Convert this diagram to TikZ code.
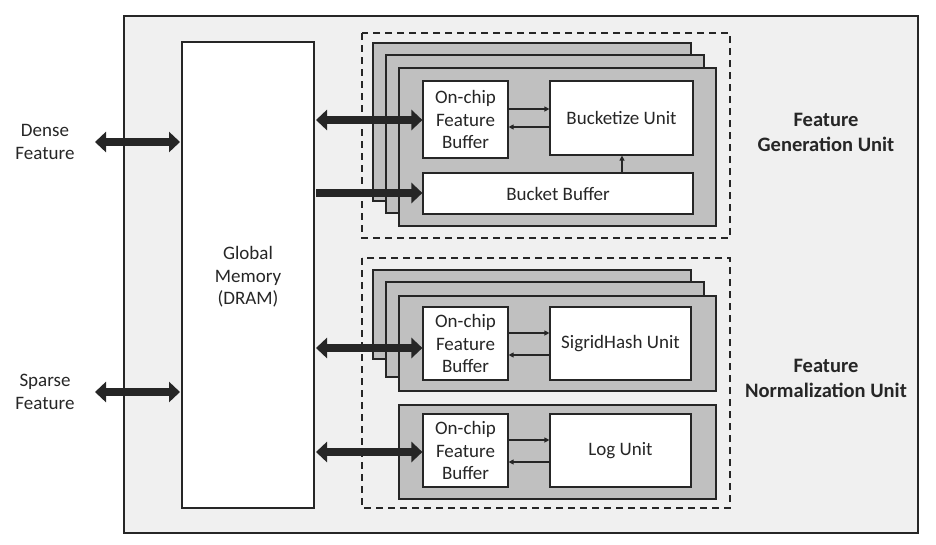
\documentclass[tikz,border=0pt]{standalone}
\usepackage{fontspec}
\setmainfont{Carlito}
\usetikzlibrary{arrows.meta}
\definecolor{bgc}{HTML}{F0F0F0}
\definecolor{grayc}{HTML}{C0C0C0}
\definecolor{linec}{HTML}{262626}
\begin{document}
\begin{tikzpicture}[x=1pt,y=-1pt,
  every node/.style={font=\fontsize{19}{22.5}\selectfont, text=linec, align=center, inner sep=0pt},
  frame/.style={draw=linec, line width=1.8pt, fill=bgc},
  graybox/.style={draw=linec, line width=1.2pt, fill=grayc},
  whitebox/.style={draw=linec, line width=1.2pt, fill=white},
  dashbox/.style={draw=linec, line width=1.6pt, dash pattern=on 7pt off 5pt},
  thin/.style={draw=linec, line width=1.2pt, -{Triangle[width=5pt,length=5pt]}},
  thick2/.style={draw=linec, line width=8pt, {Triangle[width=20pt,length=11pt]}-{Triangle[width=20pt,length=11pt]}},
  thick1/.style={draw=linec, line width=8pt, -{Triangle[width=20pt,length=11pt]}},
  lab/.style={font=\fontsize{20.5}{25}\selectfont\bfseries}
]
\useasboundingbox (0,0) rectangle (936,544);
% outer frame
\draw[frame] (124,16) rectangle (918,533);
% global memory
\draw[whitebox] (182,42) rectangle (314,508);
\node (gm) at (248,277) {Global\\Memory\\(DRAM)};
\coordinate (gmR) at (314,0);
% ---------- Feature generation ----------
\draw[dashbox] (362,33) rectangle (730,238);
\draw[graybox] (373,43) rectangle (691,201);
\draw[graybox] (386,55) rectangle (704,213);
\draw[graybox] (399,68) rectangle (716,226);
\node[whitebox, minimum width=85pt, minimum height=77pt] (fb1) at (465.5,119.5) {On-chip\\Feature\\Buffer};
\node[whitebox, minimum width=143pt, minimum height=74pt] (bu) at (621.5,118) {Bucketize Unit};
\node[whitebox, minimum width=270pt, minimum height=41pt] (bb) at (558,193.5) {Bucket Buffer};
\draw[thin] (fb1.east |- 0,109) -- (bu.west |- 0,109);
\draw[thin] (bu.west |- 0,127) -- (fb1.east |- 0,127);
\draw[thin] (bb.north -| 622,0) -- (bu.south -| 622,0);
% ---------- Feature normalization ----------
\draw[dashbox] (362,258) rectangle (730,508);
\draw[graybox] (373,270) rectangle (691,359);
\draw[graybox] (386,282) rectangle (704,377);
\draw[graybox] (399,296) rectangle (716,391);
\node[whitebox, minimum width=85pt, minimum height=73pt] (fb2) at (465.5,343.5) {On-chip\\Feature\\Buffer};
\node[whitebox, minimum width=141pt, minimum height=73pt] (sh) at (620.5,343.5) {SigridHash Unit};
\draw[thin] (fb2.east |- 0,333) -- (sh.west |- 0,333);
\draw[thin] (sh.west |- 0,355) -- (fb2.east |- 0,355);
\draw[graybox] (399,405) rectangle (716,499);
\node[whitebox, minimum width=85pt, minimum height=73pt] (fb3) at (465.5,450.5) {On-chip\\Feature\\Buffer};
\node[whitebox, minimum width=141pt, minimum height=73pt] (lu) at (620.5,450.5) {Log Unit};
\draw[thin] (fb3.east |- 0,440) -- (lu.west |- 0,440);
\draw[thin] (lu.west |- 0,462) -- (fb3.east |- 0,462);
% ---------- thick arrows ----------
\draw[thick2] (gmR |- 0,120) ++(2,0) -- (fb1.west |- 0,120);
\draw[thick1] (gmR |- 0,193) ++(2,0) -- (bb.west |- 0,193);
\draw[thick2] (gmR |- 0,348) ++(2,0) -- (fb2.west |- 0,348);
\draw[thick2] (gmR |- 0,452) ++(2,0) -- (fb3.west |- 0,452);
% external
\node (df) at (45,142) {Dense\\Feature};
\node (sf) at (45,392) {Sparse\\Feature};
\coordinate (dfa) at (95,142);
\coordinate (sfa) at (95,392);
\draw[thick2] (dfa) -- (180,142);
\draw[thick2] (sfa) -- (180,392);
% labels
\node[lab] (fgu) at (826,132) {Feature\\Generation Unit};
\node[lab] (fnu) at (826,378) {Feature\\Normalization Unit};
\end{tikzpicture}
\end{document}
